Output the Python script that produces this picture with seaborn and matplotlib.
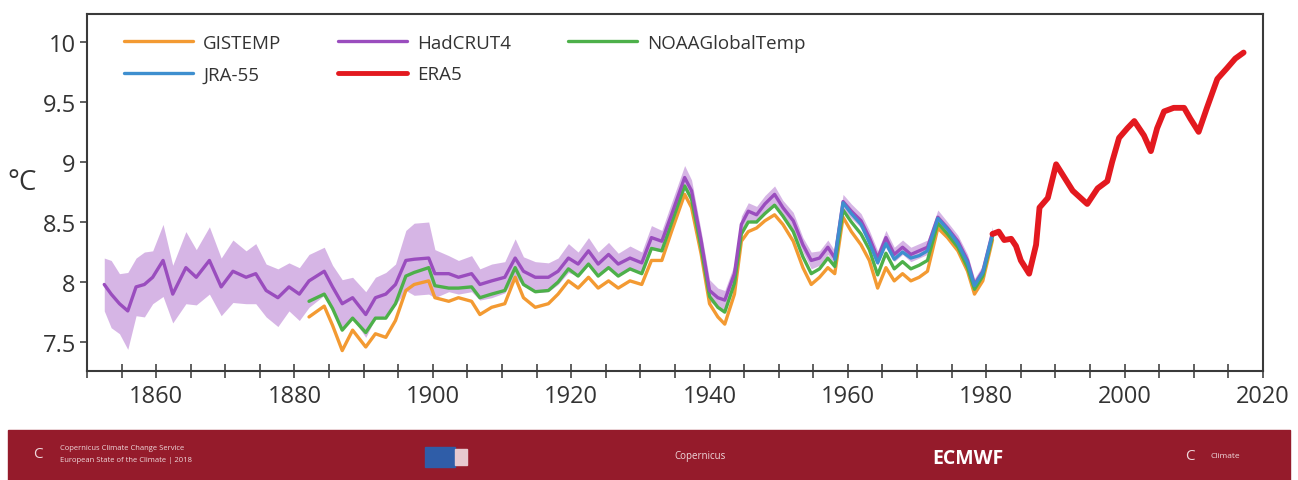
import numpy as np
import pandas as pd
import matplotlib
matplotlib.use("Agg")
import matplotlib.pyplot as plt
from matplotlib.ticker import MultipleLocator, FixedLocator
from matplotlib.patches import Rectangle, Circle
from matplotlib.lines import Line2D
import seaborn as sns

# ---------------- data ----------------
hadcrut_years = [1852.5, 1853.5, 1854.7, 1855.9, 1857.1, 1858.3, 1859.5, 1861.0, 1862.4, 1864.3,
                 1865.8, 1867.7, 1869.4, 1871.1, 1873.0, 1874.4, 1875.9, 1877.6, 1879.2, 1880.7,
                 1882.1, 1884.3, 1885.5, 1886.9, 1888.4, 1890.3, 1891.7, 1893.2, 1894.6, 1896.1,
                 1897.3, 1899.4, 1900.3, 1902.3, 1903.7, 1905.6, 1906.8, 1908.5, 1910.4, 1911.9,
                 1913.1, 1914.8, 1916.7, 1918.1, 1919.6, 1921.0, 1922.5, 1923.9, 1925.4, 1926.8,
                 1928.5, 1930.2, 1931.6, 1933.1, 1934.5, 1936.4, 1937.4, 1938.8, 1940.0, 1941.2,
                 1942.2, 1943.6, 1944.6, 1945.6, 1946.8, 1948.0, 1949.4, 1950.6, 1952.1, 1953.5,
                 1954.7, 1955.9, 1957.1, 1958.1, 1959.3, 1960.5, 1961.9, 1963.1, 1964.3, 1965.5,
                 1966.7, 1967.9, 1969.1, 1970.3, 1971.5, 1973.0, 1974.4, 1975.9, 1977.3, 1978.3,
                 1979.5, 1980.9]
hadcrut = [7.98, 7.90, 7.82, 7.76, 7.96, 7.98, 8.04, 8.18, 7.90, 8.12,
           8.04, 8.18, 7.96, 8.09, 8.04, 8.07, 7.93, 7.87, 7.96, 7.90,
           8.01, 8.09, 7.96, 7.82, 7.87, 7.73, 7.87, 7.90, 7.98, 8.18,
           8.19, 8.20, 8.07, 8.07, 8.04, 8.07, 7.98, 8.01, 8.04, 8.20,
           8.09, 8.04, 8.04, 8.09, 8.20, 8.15, 8.26, 8.15, 8.23, 8.15,
           8.20, 8.16, 8.37, 8.34, 8.56, 8.87, 8.76, 8.34, 7.93, 7.87,
           7.85, 8.07, 8.48, 8.59, 8.56, 8.65, 8.73, 8.62, 8.51, 8.31,
           8.18, 8.20, 8.29, 8.20, 8.67, 8.59, 8.51, 8.37, 8.20, 8.37,
           8.23, 8.29, 8.23, 8.26, 8.29, 8.54, 8.45, 8.34, 8.18, 7.98,
           8.09, 8.41]
hadcrut_unc = [0.22, 0.28, 0.25, 0.32, 0.24, 0.27, 0.22, 0.30, 0.24, 0.30,
               0.23, 0.28, 0.24, 0.26, 0.22, 0.25, 0.22, 0.24, 0.20, 0.22,
               0.22, 0.20, 0.18, 0.20, 0.17, 0.19, 0.17, 0.18, 0.17, 0.25,
               0.30, 0.30, 0.20, 0.15, 0.14, 0.15, 0.13, 0.14, 0.13, 0.16,
               0.12, 0.13, 0.12, 0.11, 0.12, 0.10, 0.11, 0.10, 0.10, 0.09,
               0.10, 0.09, 0.10, 0.09, 0.10, 0.10, 0.09, 0.08, 0.09, 0.08,
               0.08, 0.08, 0.07, 0.07, 0.07, 0.07, 0.07, 0.06, 0.07, 0.06,
               0.07, 0.06, 0.06, 0.06, 0.06, 0.06, 0.06, 0.06, 0.06, 0.06,
               0.06, 0.06, 0.06, 0.06, 0.06, 0.06, 0.05, 0.05, 0.05, 0.05,
               0.05, 0.05]

gistemp_years = hadcrut_years[20:]
gistemp = [7.71, 7.80, 7.64, 7.43, 7.60, 7.46, 7.57, 7.54, 7.68, 7.93,
           7.98, 8.01, 7.87, 7.84, 7.87, 7.84, 7.73, 7.79, 7.82, 8.04,
           7.87, 7.79, 7.82, 7.90, 8.01, 7.95, 8.04, 7.95, 8.01, 7.95,
           8.01, 7.98, 8.18, 8.18, 8.42, 8.73, 8.62, 8.23, 7.82, 7.71,
           7.65, 7.90, 8.34, 8.42, 8.45, 8.51, 8.56, 8.48, 8.34, 8.12,
           7.98, 8.04, 8.12, 8.07, 8.54, 8.42, 8.31, 8.18, 7.95, 8.12,
           8.01, 8.07, 8.01, 8.04, 8.09, 8.45, 8.37, 8.26, 8.09, 7.90,
           8.01, 8.35]

noaa_years = hadcrut_years[20:]
noaa = [7.84, 7.90, 7.78, 7.60, 7.70, 7.58, 7.70, 7.70, 7.82, 8.05,
        8.08, 8.12, 7.97, 7.95, 7.95, 7.96, 7.87, 7.90, 7.93, 8.12,
        7.98, 7.92, 7.93, 8.00, 8.11, 8.05, 8.15, 8.05, 8.12, 8.05,
        8.11, 8.07, 8.28, 8.26, 8.49, 8.80, 8.69, 8.28, 7.88, 7.79,
        7.75, 7.99, 8.40, 8.50, 8.50, 8.57, 8.64, 8.55, 8.42, 8.21,
        8.07, 8.11, 8.20, 8.13, 8.60, 8.50, 8.40, 8.27, 8.06, 8.24,
        8.11, 8.17, 8.11, 8.14, 8.18, 8.49, 8.40, 8.29, 8.12, 7.94,
        8.05, 8.38]

jra_years = hadcrut_years[73:]
jra55 = [8.19, 8.66, 8.57, 8.48, 8.33, 8.16, 8.32, 8.19, 8.25, 8.20,
         8.22, 8.26, 8.53, 8.44, 8.32, 8.16, 7.97, 8.08, 8.40]

era5_years = [1980.9, 1981.8, 1982.6, 1983.6, 1984.3, 1985.0, 1986.2, 1987.2, 1987.7, 1988.9,
              1990.1, 1991.3, 1992.5, 1994.6, 1996.1, 1997.5, 1998.2, 1999.2, 2000.4, 2001.4,
              2002.8, 2003.8, 2004.7, 2005.7, 2007.1, 2008.6, 2009.5, 2010.7, 2011.9, 2013.4,
              2014.8, 2016.0, 2017.2]
era5 = [8.40, 8.42, 8.35, 8.36, 8.30, 8.18, 8.07, 8.31, 8.62, 8.70,
        8.98, 8.87, 8.76, 8.65, 8.78, 8.84, 9.00, 9.20, 9.28, 9.34,
        9.22, 9.09, 9.28, 9.42, 9.45, 9.45, 9.36, 9.25, 9.45, 9.69,
        9.78, 9.86, 9.91]

series_names = ["GISTEMP", "JRA-55", "HadCRUT4", "ERA5", "NOAAGlobalTemp"]
colors = {"GISTEMP": "#F39A32", "HadCRUT4": "#9A4DBE", "NOAAGlobalTemp": "#4DB04A",
          "JRA-55": "#3E8FCF", "ERA5": "#E3191F"}
x_ticks = [1860, 1880, 1900, 1920, 1940, 1960, 1980, 2000, 2020]
y_ticks = [7.5, 8, 8.5, 9, 9.5, 10]
y_ticklabels = ["7.5", "8", "8.5", "9", "9.5", "10"]

# ---------------- style ----------------
sns.set_theme(style="white")
plt.rcParams["font.family"] = ["Open Sans", "DejaVu Sans"]

fig = plt.figure(figsize=(12.98, 4.81), dpi=100)
ax = fig.add_axes([0.067, 0.2266, 0.906, 0.742])

frames = {
    "GISTEMP": pd.DataFrame({"year": gistemp_years, "T": gistemp}),
    "NOAAGlobalTemp": pd.DataFrame({"year": noaa_years, "T": noaa}),
    "HadCRUT4": pd.DataFrame({"year": hadcrut_years, "T": hadcrut}),
    "JRA-55": pd.DataFrame({"year": jra_years, "T": jra55}),
    "ERA5": pd.DataFrame({"year": era5_years, "T": era5}),
}

hy = np.array(hadcrut_years)
hv = np.array(hadcrut)
hu = np.array(hadcrut_unc)
ax.fill_between(hy, hv - hu, hv + hu, color="#C99DDD", alpha=0.75, lw=0, zorder=1)

widths = {"GISTEMP": 2.4, "NOAAGlobalTemp": 2.4, "HadCRUT4": 2.4, "JRA-55": 2.4, "ERA5": 4.2}
zorders = {"GISTEMP": 2, "NOAAGlobalTemp": 3, "HadCRUT4": 4, "JRA-55": 5, "ERA5": 6}
for name in ["GISTEMP", "NOAAGlobalTemp", "HadCRUT4", "JRA-55", "ERA5"]:
    sns.lineplot(data=frames[name], x="year", y="T", ax=ax, color=colors[name],
                 lw=widths[name], sort=False, estimator=None,
                 zorder=zorders[name], legend=False)

ax.set_xlim(1850, 2020.0)
ax.set_ylim(7.26, 10.23)
ax.set_xlabel("")
ax.set_ylabel("")

ax.xaxis.set_major_locator(FixedLocator(x_ticks))
ax.xaxis.set_minor_locator(MultipleLocator(5))
ax.yaxis.set_major_locator(FixedLocator(y_ticks))
ax.set_yticklabels(y_ticklabels)
ax.tick_params(axis="x", which="both", direction="inout", length=10, width=1.2,
               color="#444444", labelsize=17, labelcolor="#333333", pad=4, bottom=True)
ax.tick_params(axis="y", which="major", direction="out", length=5, width=1.2,
               color="#444444", labelsize=17, labelcolor="#333333", pad=3, left=True)
for s in ax.spines.values():
    s.set_color("#3a3a3a")
    s.set_linewidth(1.5)
ax.set_facecolor("white")

leg_handles = [Line2D([0], [0], color=colors[n], lw=3.5 if n == "ERA5" else 2.4) for n in series_names]
ax.legend(leg_handles, series_names, loc="upper left", bbox_to_anchor=(0.028, 0.955),
          ncol=3, frameon=False, fontsize=13.5, handlelength=3.7, handletextpad=0.55,
          columnspacing=3.0, labelspacing=0.72, borderaxespad=0, borderpad=0.2,
          labelcolor="#333333")

fig.text(22 / 1298, 1 - 183 / 481, "°C", fontsize=20, color="#333333",
         ha="center", va="center")

# ---------------- footer banner ----------------
fig.patches.append(Rectangle((8 / 1298, 0), 1282 / 1298, 50 / 481,
                             transform=fig.transFigure, color="#951B2B", zorder=0))
fig.text(60 / 1298, 1 - 449 / 481, "Copernicus Climate Change Service", fontsize=5.5,
         color="#EFD9DC", va="center")
fig.text(60 / 1298, 1 - 461 / 481, "European State of the Climate | 2018", fontsize=5.5,
         color="#EFD9DC", va="center")
fig.text(38 / 1298, 1 - 455 / 481, "C", fontsize=11, color="#EFD9DC", va="center", ha="center")
fig.patches.append(Rectangle((425 / 1298, 1 - 468 / 481), 30 / 1298, 20 / 481,
                             transform=fig.transFigure, color="#2F5DA8", zorder=1))
fig.patches.append(Rectangle((455 / 1298, 1 - 466 / 481), 12 / 1298, 16 / 481,
                             transform=fig.transFigure, color="#E7C9CF", zorder=1))
fig.text(700 / 1298, 1 - 457 / 481, "Copernicus", fontsize=7, color="#EFD9DC",
         va="center", ha="center")
fig.text(968 / 1298, 1 - 459 / 481, "ECMWF", fontsize=14, fontweight="bold",
         color="white", va="center", ha="center")
fig.text(1190 / 1298, 1 - 456 / 481, "C", fontsize=11, color="#EFD9DC", va="center", ha="center")
fig.text(1225 / 1298, 1 - 456 / 481, "Climate", fontsize=6, color="#EFD9DC", va="center", ha="center")

fig.savefig("out.png", dpi=100, facecolor="white")
